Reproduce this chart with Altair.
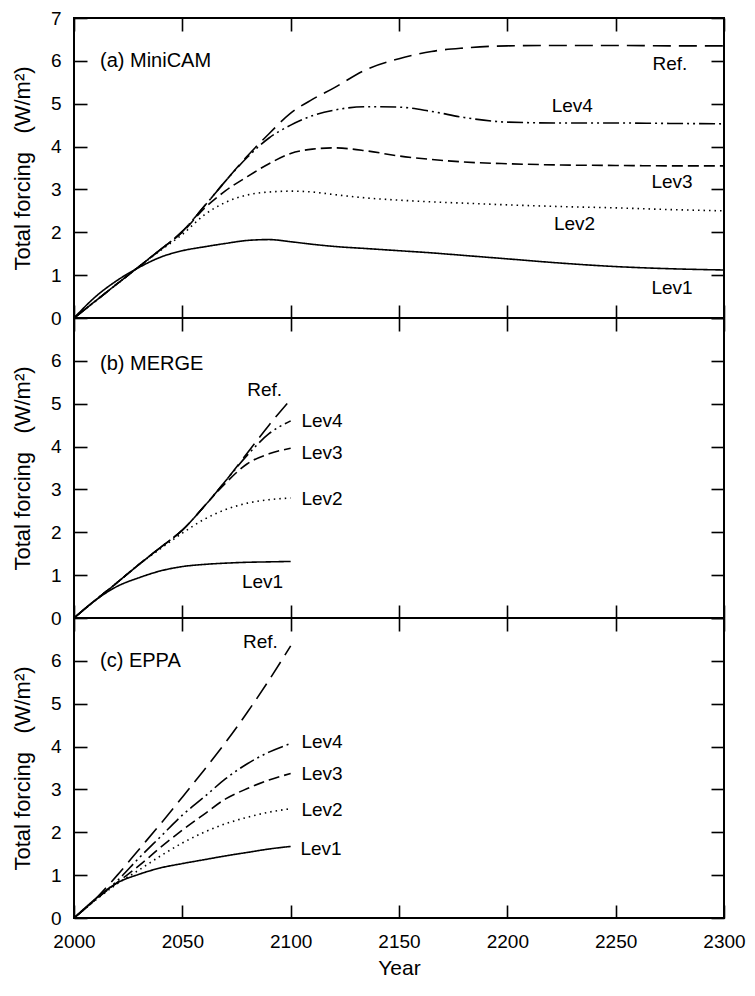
import altair as alt
import pandas as pd

FONT = "Liberation Sans"
SERIES = ["Ref.", "Lev4", "Lev3", "Lev2", "Lev1"]
DASHES = [[18, 8], [16, 4, 2, 4, 2, 4], [11, 5], [1.5, 4], [1, 0]]

X_TICKS = [2000, 2050, 2100, 2150, 2200, 2250, 2300]

# ---------------- (a) MiniCAM ----------------
A_YEARS = [2000, 2010, 2020, 2030, 2040, 2050, 2060, 2070, 2080, 2090, 2100,
           2110, 2120, 2135, 2150, 2165, 2180, 2200, 2225, 2250, 2275, 2300]
A_REF = [0, 0.40, 0.80, 1.20, 1.60, 2.02, 2.60, 3.20, 3.78, 4.30, 4.78,
         5.10, 5.37, 5.80, 6.05, 6.22, 6.30, 6.35, 6.36, 6.36, 6.35, 6.35]
A_LEV4 = [0, 0.40, 0.80, 1.20, 1.60, 2.02, 2.60, 3.20, 3.75, 4.20, 4.50,
          4.72, 4.85, 4.93, 4.92, 4.82, 4.68, 4.57, 4.55, 4.55, 4.54, 4.53]
A_LEV3 = [0, 0.40, 0.80, 1.20, 1.60, 2.00, 2.55, 2.97, 3.30, 3.60, 3.84,
          3.94, 3.97, 3.90, 3.78, 3.70, 3.64, 3.60, 3.57, 3.56, 3.55, 3.55]
A_LEV2 = [0, 0.40, 0.80, 1.20, 1.58, 1.95, 2.40, 2.70, 2.87, 2.94, 2.96,
          2.94, 2.88, 2.80, 2.75, 2.71, 2.68, 2.64, 2.60, 2.57, 2.53, 2.50]
A_LEV1 = [0, 0.50, 0.88, 1.18, 1.42, 1.57, 1.66, 1.74, 1.81, 1.83, 1.78,
          1.72, 1.67, 1.62, 1.57, 1.52, 1.46, 1.38, 1.28, 1.20, 1.15, 1.12]
A_LABEL_TEXT = ["Ref.", "Lev4", "Lev3", "Lev2", "Lev1"]
A_LABEL_X = [2275, 2230, 2276, 2231, 2276]
A_LABEL_Y = [5.92, 4.94, 3.18, 2.19, 0.71]

# ---------------- (b) MERGE ----------------
B_YEARS = [2000, 2010, 2020, 2030, 2040, 2050, 2060, 2070, 2080, 2090, 2100]
B_REF = [0, 0.42, 0.83, 1.25, 1.65, 2.05, 2.60, 3.20, 3.85, 4.50, 5.10]
B_LEV4 = [0, 0.42, 0.83, 1.25, 1.65, 2.05, 2.60, 3.20, 3.80, 4.30, 4.60]
B_LEV3 = [0, 0.42, 0.83, 1.25, 1.65, 2.05, 2.60, 3.15, 3.60, 3.83, 3.96]
B_LEV2 = [0, 0.42, 0.83, 1.25, 1.62, 1.98, 2.30, 2.53, 2.68, 2.76, 2.80]
B_LEV1 = [0, 0.42, 0.74, 0.94, 1.10, 1.20, 1.25, 1.28, 1.30, 1.31, 1.32]
B_LABEL_TEXT = ["Ref.", "Lev4", "Lev3", "Lev2", "Lev1"]
B_LABEL_X = [2088, 2114.5, 2114.5, 2114.5, 2087]
B_LABEL_Y = [5.33, 4.60, 3.86, 2.77, 0.84]

# ---------------- (c) EPPA ----------------
C_YEARS = [2000, 2010, 2020, 2030, 2040, 2050, 2060, 2070, 2080, 2090, 2100]
C_REF = [0, 0.45, 1.00, 1.60, 2.20, 2.82, 3.45, 4.10, 4.80, 5.55, 6.35]
C_LEV4 = [0, 0.43, 0.87, 1.40, 1.90, 2.40, 2.82, 3.25, 3.60, 3.87, 4.07]
C_LEV3 = [0, 0.43, 0.83, 1.22, 1.65, 2.05, 2.42, 2.78, 3.02, 3.22, 3.37]
C_LEV2 = [0, 0.42, 0.80, 1.12, 1.45, 1.75, 2.00, 2.20, 2.35, 2.47, 2.55]
C_LEV1 = [0, 0.45, 0.82, 1.02, 1.17, 1.27, 1.36, 1.45, 1.53, 1.61, 1.67]
C_LABEL_TEXT = ["Ref.", "Lev4", "Lev3", "Lev2", "Lev1"]
C_LABEL_X = [2086, 2114.5, 2114.5, 2114.5, 2114]
C_LABEL_Y = [6.43, 4.10, 3.36, 2.51, 1.62]

PANEL_TITLES = ["(a) MiniCAM", "(b) MERGE", "(c) EPPA"]
PANEL_TITLE_X = [2012, 2012, 2012]
PANEL_TITLE_Y = [6.0, 5.93, 6.0]

Y_TITLE = "Total forcing\u00a0\u00a0\u00a0(W/m²)"

W = 650
H = 300


def long_df(years, series_values):
    rows = []
    for name, vals in zip(SERIES, series_values):
        for yr, v in zip(years, vals):
            rows.append({"year": yr, "value": v, "series": name})
    return pd.DataFrame(rows)


def axis_common(**kw):
    base = dict(domain=False, grid=False, tickColor="black", tickWidth=1.6,
                tickSize=13, offset=-13, labelFont=FONT, labelFontSize=19,
                labelColor="black", labelFlush=False, labelOverlap=False,
                titleFont=FONT, titleFontSize=22, titleFontWeight="normal",
                titleColor="black")
    base.update(kw)
    return alt.Axis(**base)


def panel(df, lab_text, lab_x, lab_y, title, tx, ty, y_values, bottom_labels):
    xs = alt.Scale(domain=[2000, 2300], nice=False, zero=False)
    ys = alt.Scale(domain=[0, 7], nice=False)
    if bottom_labels:
        xax = axis_common(orient="bottom", values=X_TICKS, format="d",
                          labelPadding=14, title="Year", titlePadding=6,
                          titleFontSize=21)
    else:
        xax = axis_common(orient="bottom", values=X_TICKS, labels=False, title=None)
    yax = axis_common(orient="left", values=y_values, format="d", labelPadding=13,
                      title=Y_TITLE, titlePadding=16)

    lines = alt.Chart(df).mark_line(color="black", strokeWidth=1.6,
                                    interpolate="monotone").encode(
        x=alt.X("year:Q", scale=xs, axis=xax),
        y=alt.Y("value:Q", scale=ys, axis=yax),
        strokeDash=alt.StrokeDash("series:N", scale=alt.Scale(domain=SERIES, range=DASHES),
                                  legend=None),
        detail="series:N",
    )
    ghost = alt.Chart(df).mark_point(opacity=0, size=1).encode(
        x=alt.X("year:Q", scale=xs,
                axis=axis_common(orient="top", values=X_TICKS, labels=False, title=None)),
        y=alt.Y("value:Q", scale=ys,
                axis=axis_common(orient="right", values=[0, 1, 2, 3, 4, 5, 6, 7],
                                 labels=False, title=None)),
    )
    ldf = pd.DataFrame({"year": lab_x, "value": lab_y, "text": lab_text})
    labels = alt.Chart(ldf).mark_text(font=FONT, fontSize=19, color="black").encode(
        x=alt.X("year:Q", scale=xs, axis=None),
        y=alt.Y("value:Q", scale=ys, axis=None),
        text="text:N",
    )
    tdf = pd.DataFrame({"year": [tx], "value": [ty], "text": [title]})
    ttl = alt.Chart(tdf).mark_text(font=FONT, fontSize=20, color="black",
                                   align="left").encode(
        x=alt.X("year:Q", scale=xs, axis=None),
        y=alt.Y("value:Q", scale=ys, axis=None),
        text="text:N",
    )
    return alt.layer(lines, ghost, labels, ttl).resolve_axis(
        x="independent", y="independent").properties(width=W, height=H)


pa = panel(long_df(A_YEARS, [A_REF, A_LEV4, A_LEV3, A_LEV2, A_LEV1]),
           A_LABEL_TEXT, A_LABEL_X, A_LABEL_Y,
           PANEL_TITLES[0], PANEL_TITLE_X[0], PANEL_TITLE_Y[0],
           [0, 1, 2, 3, 4, 5, 6, 7], False)
pb = panel(long_df(B_YEARS, [B_REF, B_LEV4, B_LEV3, B_LEV2, B_LEV1]),
           B_LABEL_TEXT, B_LABEL_X, B_LABEL_Y,
           PANEL_TITLES[1], PANEL_TITLE_X[1], PANEL_TITLE_Y[1],
           [0, 1, 2, 3, 4, 5, 6], False)
pc = panel(long_df(C_YEARS, [C_REF, C_LEV4, C_LEV3, C_LEV2, C_LEV1]),
           C_LABEL_TEXT, C_LABEL_X, C_LABEL_Y,
           PANEL_TITLES[2], PANEL_TITLE_X[2], PANEL_TITLE_Y[2],
           [0, 1, 2, 3, 4, 5, 6], True)

chart = alt.vconcat(pa, pb, pc, spacing=0, bounds="flush").properties(
    padding={"left": 2, "top": 0, "right": 0, "bottom": 0}
).configure(background="white").configure_view(stroke="black", strokeWidth=2)

chart.save("out.html", embed_options={"renderer": "svg", "actions": False})
